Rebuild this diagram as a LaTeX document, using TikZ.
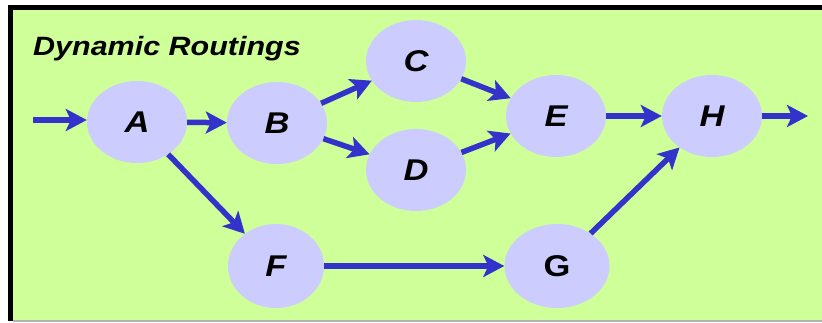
\documentclass[tikz,border=0pt]{standalone}
\usepackage{fontspec}
\setmainfont{Liberation Sans}
\usetikzlibrary{arrows.meta,shapes.geometric}
\definecolor{bg}{RGB}{206,255,153}
\definecolor{nodefill}{RGB}{204,204,255}
\definecolor{arr}{RGB}{51,51,204}
\newcommand{\wide}[1]{\scalebox{1.15}[1]{#1}}
\begin{document}
\begin{tikzpicture}[x=1pt,y=-1pt,
  state/.style={ellipse, fill=nodefill, minimum width=100pt, minimum height=82pt, inner sep=0pt,
    font=\fontsize{30}{30}\selectfont\bfseries\itshape},
  flow/.style={draw=arr, line width=5.5pt, -{Stealth[length=21pt,width=22pt,inset=5pt]}}]
\useasboundingbox (0,0) rectangle (822,322);
\fill[white] (0,0) rectangle (822,322);
\fill[bg] (13,10) rectangle (822,320);
\fill[black] (8,5) rectangle (822,10);
\fill[black] (8,5) rectangle (13,321);
\fill[gray!60] (13,320) rectangle (822,321.5);

\node[anchor=base west, inner sep=0pt, font=\fontsize{26.5}{26.5}\selectfont\bfseries\itshape] (title) at (33,55) {\wide{Dynamic Routings}};

\node[state] (A) at (137,122) {\wide{A}};
\node[state] (B) at (277,123) {\wide{B}};
\node[state] (C) at (416,61) {\wide{C}};
\node[state] (D) at (416,170) {\wide{D}};
\node[state] (E) at (556,116) {\wide{E}};
\node[state] (H) at (712,116) {\wide{H}};
\node[state, minimum width=96pt, minimum height=84pt] (F) at (276,266) {\wide{F}};
\node[state, minimum width=105pt, minimum height=84pt, font=\fontsize{30}{30}\selectfont\bfseries] (G) at (557,266) {\wide{G}};

\coordinate (in) at (33,120);
\coordinate (out) at (808,116);

\draw[flow] (in) -- (A.west |- in);
\draw[flow] (A) -- (B);
\draw[flow] (B) -- (C);
\draw[flow] (B) -- (D);
\draw[flow] (C) -- (E);
\draw[flow] (D) -- (E);
\draw[flow] (E) -- (H);
\draw[flow] (H) -- (out);
\draw[flow] (A) -- (F);
\draw[flow] (F) -- (G);
\draw[flow] (G) -- (H);
\end{tikzpicture}
\end{document}
